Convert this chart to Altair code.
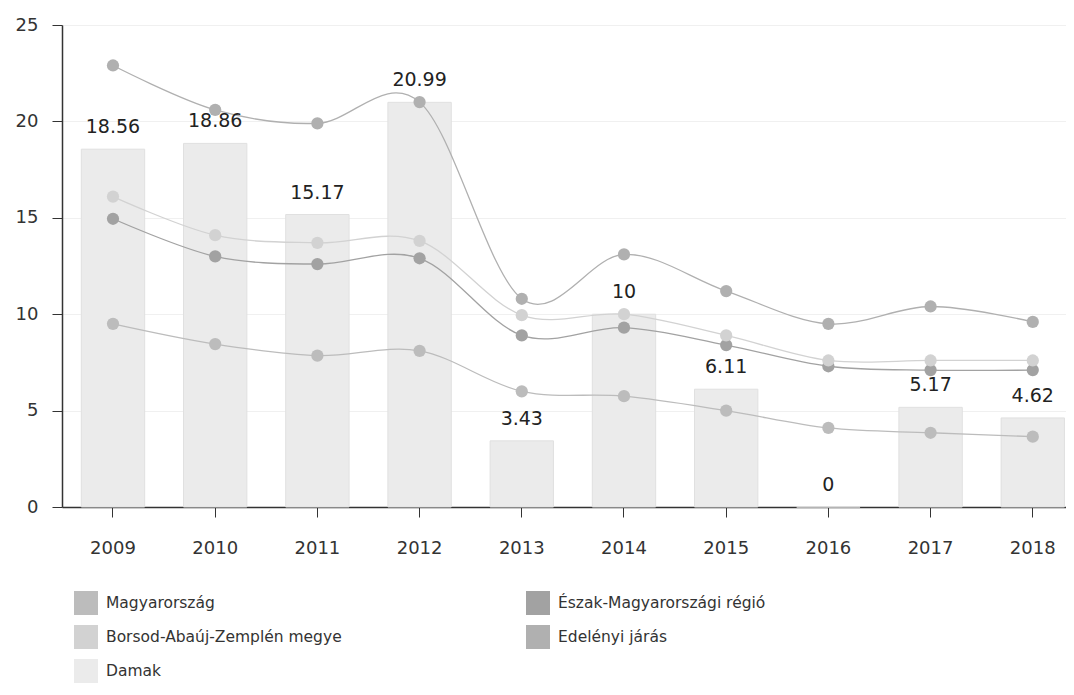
import altair as alt
import pandas as pd

years = ["2009", "2010", "2011", "2012", "2013", "2014", "2015", "2016", "2017", "2018"]

damak = [18.56, 18.86, 15.17, 20.99, 3.43, 10, 6.11, 0, 5.17, 4.62]
edelenyi = [22.9, 20.6, 19.9, 21.0, 10.8, 13.1, 11.2, 9.5, 10.4, 9.6]
borsod = [16.1, 14.1, 13.7, 13.8, 9.95, 10.0, 8.9, 7.6, 7.6, 7.6]
eszak = [14.95, 13.0, 12.6, 12.9, 8.9, 9.3, 8.4, 7.3, 7.1, 7.1]
magyar = [9.5, 8.45, 7.85, 8.1, 6.0, 5.75, 5.0, 4.1, 3.85, 3.65]

# legend fills column by column: left column first, then right column
series_names = ["Magyarország", "Borsod-Abaúj-Zemplén megye", "Damak",
                "Észak-Magyarországi régió", "Edelényi járás"]
series_colors = ["#bcbcbc", "#d2d2d2", "#ebebeb", "#a2a2a2", "#b0b0b0"]

FONT = "DejaVu Sans"

bars_df = pd.DataFrame({
    "year": years,
    "value": damak,
    "label": [f"{v:g}" for v in damak],
    "series": ["Damak"] * len(years),
})

line_rows = []
for name, vals in [("Magyarország", magyar),
                   ("Észak-Magyarországi régió", eszak),
                   ("Borsod-Abaúj-Zemplén megye", borsod),
                   ("Edelényi járás", edelenyi)]:
    for y, v in zip(years, vals):
        line_rows.append({"year": y, "value": v, "series": name})
lines_df = pd.DataFrame(line_rows)

color_scale = alt.Scale(domain=series_names, range=series_colors)

x_enc = alt.X(
    "year:N",
    sort=years,
    title=None,
    scale=alt.Scale(paddingInner=0.38, paddingOuter=0.102, align=0.926),
    axis=alt.Axis(labelAngle=0, labelFont=FONT, labelFontSize=18, labelColor="#333333",
                  labelPadding=22, tickSize=10, tickColor="#333333",
                  domainColor="#333333", domainWidth=1.5, grid=False),
)
y_enc = alt.Y(
    "value:Q",
    title=None,
    scale=alt.Scale(domain=[0, 25], nice=False),
    axis=alt.Axis(values=[0, 5, 10, 15, 20, 25], labelFont=FONT, labelFontSize=18,
                  labelColor="#333333", labelPadding=14, tickSize=10,
                  tickColor="#333333", domainColor="#333333", domainWidth=1.5,
                  grid=True, gridColor="#f0f0f0"),
)

legend = alt.Legend(
    title=None, orient="none", legendX=12, legendY=566, columns=2,
    columnPadding=184, rowPadding=10, symbolType="square", symbolSize=576,
    symbolStrokeWidth=0, labelFont=FONT, labelFontSize=15.5, labelColor="#333333",
    labelOffset=8, labelLimit=400, symbolOpacity=1,
)

bars = alt.Chart(bars_df).mark_bar(stroke="#e0e0e0", strokeWidth=1).encode(
    x=x_enc, y=y_enc,
    color=alt.Color("series:N", scale=color_scale, legend=legend, sort=series_names),
)

labels = alt.Chart(bars_df).mark_text(
    baseline="bottom", dy=-12, font=FONT, fontSize=19, color="#222222"
).encode(x=x_enc, y=y_enc, text="label:N")

lines = alt.Chart(lines_df).mark_line(interpolate="cardinal", strokeWidth=1.3).encode(
    x=x_enc, y=y_enc,
    color=alt.Color("series:N", scale=color_scale, legend=None),
    detail="series:N",
)

points = alt.Chart(lines_df).mark_circle(size=150, opacity=1).encode(
    x=x_enc, y=y_enc,
    color=alt.Color("series:N", scale=color_scale, legend=None),
)

chart = alt.layer(bars, lines, points, labels).properties(
    width=1004, height=482,
    autosize=alt.AutoSizeParams(type="none"),
    padding={"left": 54, "top": 17, "right": 0, "bottom": 180},
).configure_view(stroke=None).configure(background="white")

chart.save("out.html", embed_options={"renderer": "svg", "actions": False})
